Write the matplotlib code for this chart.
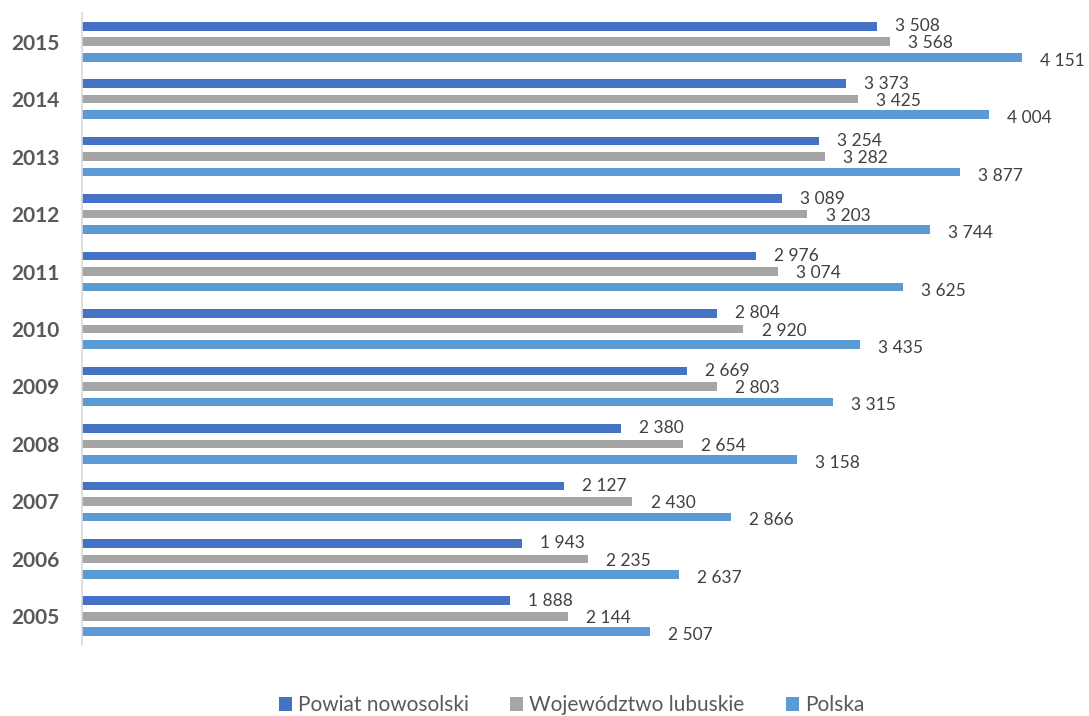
import matplotlib.pyplot as plt
import numpy as np

plt.rcParams["font.family"] = ["Lato", "DejaVu Sans"]

years = ["2005", "2006", "2007", "2008", "2009", "2010", "2011", "2012", "2013", "2014", "2015"]
powiat = [1888, 1943, 2127, 2380, 2669, 2804, 2976, 3089, 3254, 3373, 3508]
lubuskie = [2144, 2235, 2430, 2654, 2803, 2920, 3074, 3203, 3282, 3425, 3568]
polska = [2507, 2637, 2866, 3158, 3315, 3435, 3625, 3744, 3877, 4004, 4151]

series = [
    ("Powiat nowosolski", powiat, "#4472C4"),
    ("Województwo lubuskie", lubuskie, "#A5A5A5"),
    ("Polska", polska, "#5B9BD5"),
]

fig = plt.figure(figsize=(10.89, 7.16), dpi=100)
ax = fig.add_axes([82 / 1089, 71 / 716, 4400 * 0.2265 / 1089, 632 / 716])

y = np.arange(len(years))
step = 0.27
height = 0.15

for i, (name, vals, color) in enumerate(series):
    pos = y + (1 - i) * step
    ax.barh(pos, vals, height=height, color=color, label=name)
    for p, v in zip(pos, vals):
        ax.text(v + 80, p - 0.03 * i, f"{v:,}".replace(",", " "),
                va="center", ha="left", fontsize=12.5, color="#404040")

ax.set_xlim(0, 4400)
ax.set_ylim(-0.5, len(years) - 0.5)
ax.set_yticks(y)
ax.set_yticklabels(years, fontsize=15, fontweight="bold", color="#595959")
ax.tick_params(axis="y", length=0, pad=16)
ax.set_xticks([])
for side in ["top", "right", "bottom"]:
    ax.spines[side].set_visible(False)
ax.spines["left"].set_color("#D9D9D9")
ax.spines["left"].set_linewidth(1.2)

fig.legend(loc="center", bbox_to_anchor=(0.525, 0.015), ncol=3, frameon=False,
           fontsize=15, labelcolor="#595959", handlelength=0.6, handleheight=0.6,
           handletextpad=0.3, columnspacing=2.0)

plt.savefig("out.png", dpi=100)
